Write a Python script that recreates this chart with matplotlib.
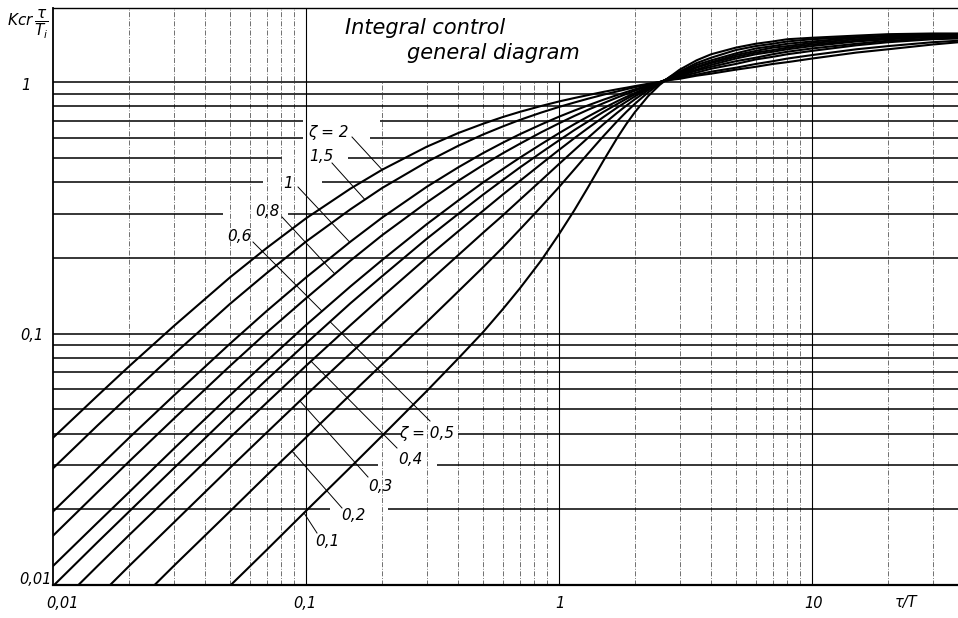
import numpy as np
import matplotlib
matplotlib.use("Agg")
import matplotlib.pyplot as plt
from matplotlib.ticker import NullLocator

plt.rcParams['font.family'] = ['DejaVu Sans']
plt.rcParams['mathtext.fontset'] = 'dejavusans'

# ---------------- data ----------------
tau_T = [0.01, 0.015, 0.02, 0.03, 0.05, 0.07, 0.1, 0.15, 0.2, 0.3, 0.4, 0.5, 0.6, 0.7,
         0.85, 1, 1.15, 1.3, 1.5, 1.7, 1.85, 2, 2.25, 2.5, 2.75, 3, 3.5, 4, 5, 6, 7, 8,
         10, 15, 20, 30, 38]
k_z01 = [0.002, 0.00299, 0.00398, 0.00597, 0.00991, 0.0138, 0.0197, 0.0294, 0.0392, 0.059,
         0.0796, 0.101, 0.125, 0.151, 0.195, 0.248, 0.309, 0.38, 0.487, 0.6, 0.683, 0.761,
         0.878, 0.974, 1.05, 1.12, 1.22, 1.29, 1.37, 1.42, 1.45, 1.48, 1.5, 1.53, 1.55,
         1.56, 1.56]
k_z02 = [0.00398, 0.00596, 0.00794, 0.0119, 0.0196, 0.0273, 0.0386, 0.0572, 0.0754, 0.111,
         0.147, 0.183, 0.22, 0.259, 0.319, 0.382, 0.449, 0.518, 0.61, 0.699, 0.762, 0.821,
         0.909, 0.985, 1.05, 1.1, 1.19, 1.25, 1.34, 1.39, 1.42, 1.45, 1.48, 1.51, 1.53,
         1.55, 1.55]
k_z03 = [0.00596, 0.00892, 0.0119, 0.0177, 0.0292, 0.0404, 0.0569, 0.0834, 0.109, 0.158,
         0.205, 0.251, 0.295, 0.34, 0.406, 0.472, 0.536, 0.599, 0.68, 0.755, 0.807, 0.855,
         0.928, 0.99, 1.04, 1.09, 1.17, 1.22, 1.3, 1.36, 1.39, 1.42, 1.45, 1.5, 1.52,
         1.54, 1.54]
k_z04 = [0.00794, 0.0119, 0.0158, 0.0234, 0.0385, 0.0531, 0.0744, 0.108, 0.14, 0.2,
         0.255, 0.307, 0.357, 0.404, 0.472, 0.537, 0.598, 0.655, 0.726, 0.792, 0.836, 0.878,
         0.94, 0.994, 1.04, 1.08, 1.15, 1.2, 1.28, 1.33, 1.37, 1.39, 1.43, 1.48, 1.5,
         1.53, 1.54]
k_z05 = [0.0099, 0.0148, 0.0196, 0.0291, 0.0477, 0.0656, 0.0913, 0.132, 0.169, 0.238,
         0.299, 0.356, 0.408, 0.457, 0.524, 0.586, 0.644, 0.696, 0.761, 0.818, 0.858, 0.894,
         0.948, 0.996, 1.04, 1.07, 1.14, 1.19, 1.26, 1.31, 1.34, 1.37, 1.41, 1.46, 1.49,
         1.52, 1.53]
k_z06 = [0.0119, 0.0177, 0.0234, 0.0348, 0.0567, 0.0777, 0.108, 0.154, 0.196, 0.272,
         0.338, 0.398, 0.451, 0.5, 0.566, 0.626, 0.68, 0.728, 0.787, 0.839, 0.874, 0.906,
         0.955, 0.997, 1.04, 1.07, 1.12, 1.17, 1.24, 1.29, 1.32, 1.35, 1.39, 1.45, 1.48,
         1.51, 1.52]
k_z08 = [0.0157, 0.0234, 0.031, 0.0458, 0.0742, 0.101, 0.138, 0.195, 0.246, 0.332,
         0.405, 0.467, 0.521, 0.568, 0.631, 0.685, 0.733, 0.775, 0.824, 0.868, 0.897, 0.924,
         0.964, 0.999, 1.03, 1.06, 1.11, 1.15, 1.21, 1.25, 1.29, 1.32, 1.36, 1.42, 1.46,
         1.49, 1.51]
k_z1 = [0.0196, 0.0291, 0.0385, 0.0566, 0.091, 0.123, 0.167, 0.232, 0.289, 0.383,
        0.458, 0.521, 0.574, 0.62, 0.678, 0.728, 0.77, 0.807, 0.851, 0.888, 0.913, 0.936,
        0.97, 1.0, 1.03, 1.05, 1.09, 1.13, 1.18, 1.23, 1.26, 1.29, 1.33, 1.4, 1.44,
        1.48, 1.49]
k_z15 = [0.0291, 0.0431, 0.0566, 0.0826, 0.131, 0.174, 0.232, 0.312, 0.379, 0.481,
         0.558, 0.618, 0.666, 0.707, 0.756, 0.796, 0.829, 0.858, 0.891, 0.918, 0.937, 0.954,
         0.979, 1.0, 1.02, 1.04, 1.07, 1.1, 1.14, 1.18, 1.21, 1.24, 1.28, 1.35, 1.39,
         1.44, 1.46]
k_z2 = [0.0385, 0.0566, 0.0741, 0.107, 0.167, 0.219, 0.287, 0.377, 0.448, 0.553,
        0.627, 0.682, 0.726, 0.761, 0.803, 0.837, 0.864, 0.887, 0.914, 0.936, 0.95, 0.964,
        0.984, 1.0, 1.02, 1.03, 1.06, 1.08, 1.12, 1.15, 1.18, 1.2, 1.24, 1.31, 1.35,
        1.41, 1.44]

curves = [k_z01, k_z02, k_z03, k_z04, k_z05, k_z06, k_z08, k_z1, k_z15, k_z2]
labels = ["0,1", "0,2", "0,3", "0,4", "ζ = 0,5", "0,6", "0,8", "1", "1,5", "ζ = 2"]
x_ticklabels = ["0,01", "0,1", "1", "10"]
y_ticklabels = ["0,01", "0,1", "1"]

# ---------------- layout (pixel positions in the 958x618 image) ----------------
label_px = [(327, 542), (353, 515), (380, 486), (410, 460), (427, 433),
            (239, 236), (267, 211), (288, 183), (321, 156), (328, 132)]
leader_start_px = [(317, 533), (342, 508), (368, 477), (397, 448), (430, 421),
                   (253, 242), (282, 217), (298, 187), (332, 163), (352, 137)]
leader_end_x = [0.0982, 0.088, 0.0946, 0.1047, 0.1245, 0.1157, 0.130, 0.149, 0.171, 0.2]

W, H = 958, 618
fig = plt.figure(figsize=(W / 100, H / 100), dpi=100)
ax = fig.add_axes([53 / W, 33 / H, 905 / W, 577 / H])
ax.set_xscale('log')
ax.set_yscale('log')
XMAX, YMAX = 37.8, 1.97
ax.set_xlim(0.01, XMAX)
ax.set_ylim(0.01, YMAX)
for axis in (ax.xaxis, ax.yaxis):
    axis.set_major_locator(NullLocator())
    axis.set_minor_locator(NullLocator())
ax.spines['right'].set_visible(False)
ax.spines['left'].set_linewidth(1.3)
ax.spines['bottom'].set_linewidth(1.6)
ax.spines['top'].set_linewidth(1.0)

inv = ax.transData.inverted()
def px2d(px, py):
    return inv.transform((px, H - py))

# grid: vertical dash-dot lines, bold horizontal lines
decades = [0.01, 0.1, 1, 10]
minor_x = [k * d for d in decades for k in range(2, 10) if k * d < XMAX]
for xv in minor_x:
    top = 1.0 if (0.1 < xv < 1.99) else YMAX
    ax.vlines(xv, 0.01, top, colors='0.35', lw=0.6, linestyles=(0, (6, 2, 1, 2)), zorder=1)
for xv in [0.1, 1, 10]:
    top = 1.0 if (0.1 < xv < 1.99) else YMAX
    ax.vlines(xv, 0.01, top, colors='k', lw=0.8, zorder=1)
y_lines = [k * d for d in [0.01, 0.1] for k in range(2, 10)] + [0.1, 1.0]
gaps_px = {0.7: (303, 380), 0.6: (303, 370), 0.5: (282, 348), 0.4: (263, 322),
           0.3: (223, 288), 0.04: (402, 458), 0.03: (378, 437), 0.02: (330, 388)}
for yv in y_lines:
    key = round(yv, 4)
    if key in gaps_px:
        g0 = px2d(gaps_px[key][0], 0)[0]
        g1 = px2d(gaps_px[key][1], 0)[0]
        ax.hlines([yv, yv], [0.01, g1], [g0, XMAX], colors='k', lw=1.1, zorder=1)
    else:
        ax.hlines(yv, 0.01, XMAX, colors='k', lw=1.1, zorder=1)

# curves
for k in curves:
    ax.plot(tau_T, k, color='k', lw=1.5, zorder=3, solid_joinstyle='round')

# labels with leader lines
lx = np.log(tau_T)
for k, lab, lp, ls, le in zip(curves, labels, label_px, leader_start_px, leader_end_x):
    ye = np.exp(np.interp(np.log(le), lx, np.log(k)))
    xs, ys = px2d(*ls)
    ax.plot([xs, le], [ys, ye], color='k', lw=0.7, zorder=3.5)
    tx, ty = px2d(*lp)
    ax.text(tx, ty, lab, ha='center', va='center', fontsize=11, style='italic', zorder=4)

# title
fig.text(345 / W, 1 - 28 / H, "Integral control", ha='left', va='center',
         fontsize=15, style='italic')
fig.text(407 / W, 1 - 53 / H, "general diagram", ha='left', va='center',
         fontsize=15, style='italic')

# axis label texts
fig.text(28 / W, 1 - 25 / H, r'$Kcr\,\dfrac{\tau}{T_i}$', ha='center', va='center', fontsize=11)
tick_fs = 10.5
for s, (px, py) in zip(y_ticklabels, [(52, 580), (43, 336), (31, 85)]):
    fig.text(px / W, 1 - py / H, s, ha='right', va='center', fontsize=tick_fs, style='italic')
for s, px in zip(x_ticklabels + ["τ/T"], [62, 305, 560, 814, 906]):
    fig.text(px / W, 1 - 603 / H, s, ha='center', va='center', fontsize=tick_fs, style='italic')

fig.savefig("out.png", dpi=100)
